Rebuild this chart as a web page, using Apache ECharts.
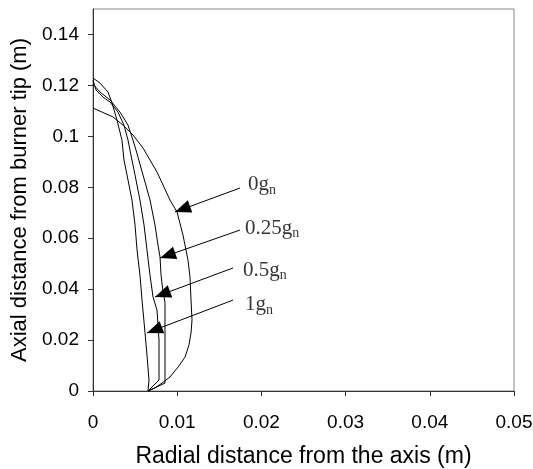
<!DOCTYPE html>
<html>
<head>
<meta charset="utf-8">
<script src="https://cdn.jsdelivr.net/npm/echarts@6/dist/echarts.min.js"></script>
<style>
html, body { margin: 0; padding: 0; background: #fff; }
#chart { width: 533px; height: 469px; }
</style>
</head>
<body>
<div id="chart"></div>
<script>
// flame contours [radial x, axial y] (m), top of flame to burner rim
var g0 = [[0, 0.1111], [0.00238, 0.1076], [0.00356, 0.1044], [0.00475, 0.1005], [0.00594, 0.0954],
    [0.0076, 0.086], [0.00914, 0.075], [0.00998, 0.0703], [0.01069, 0.0612], [0.01128, 0.0514],
    [0.01152, 0.0448], [0.01164, 0.0357], [0.01176, 0.0279], [0.01164, 0.0228], [0.0114, 0.0181],
    [0.01093, 0.0133], [0.0101, 0.0094], [0.00914, 0.0055], [0.0082, 0.0031], [0.00736, 0.0012], [0.00653, 0]];
var g025 = [[0, 0.1205], [0.00083, 0.1174], [0.00202, 0.1143], [0.00321, 0.1095], [0.00416, 0.1044],
    [0.00475, 0.0985], [0.00511, 0.0946], [0.00594, 0.0848], [0.00677, 0.075], [0.00736, 0.0652],
    [0.00772, 0.0573], [0.00796, 0.0526], [0.00808, 0.0455], [0.00831, 0.0389], [0.00855, 0.0349],
    [0.00855, 0.0031], [0.00653, 0]];
var g05 = [[0, 0.1221], [0.00036, 0.1182], [0.00119, 0.1154], [0.00202, 0.1135], [0.00297, 0.1095],
    [0.00368, 0.1044], [0.00416, 0.0985], [0.00439, 0.0946], [0.00499, 0.0848], [0.00558, 0.075],
    [0.00606, 0.0652], [0.00641, 0.0554], [0.00677, 0.0455], [0.00713, 0.0369], [0.0076, 0.0318],
    [0.00784, 0.02], [0.00784, 0.0043], [0.00653, 0]];
var g1 = [[0, 0.1229], [0.00083, 0.1209], [0.00178, 0.1174], [0.00226, 0.1131], [0.00285, 0.1064],
    [0.00344, 0.0985], [0.00368, 0.0907], [0.00416, 0.0828], [0.00463, 0.075], [0.00499, 0.0652],
    [0.00523, 0.0554], [0.00558, 0.0455], [0.00582, 0.0357], [0.00618, 0.0228], [0.00641, 0.0141],
    [0.00665, 0.0043], [0.00653, 0]];

var names = ['0', '0.25', '0.5', '1'];
// arrow start / tip and label anchor (data units)
var arrowFrom = [[0.01746, 0.0797], [0.01746, 0.0632], [0.01663, 0.0483], [0.01663, 0.0357]];
var arrowTo = [[0.00974, 0.0703], [0.00796, 0.0522], [0.00736, 0.0369], [0.00641, 0.0228]];
var labelAt = [[0.0184, 0.0809], [0.01805, 0.064], [0.01781, 0.0475], [0.01805, 0.0338]];

var xTicks = [0, 0.01, 0.02, 0.03, 0.04, 0.05];
var yTicks = [0, 0.02, 0.04, 0.06, 0.08, 0.1, 0.12, 0.14];

var curves = [g0, g025, g05, g1];
var series = [];
curves.forEach(function (d, i) {
    series.push({
        type: 'line',
        data: d,
        showSymbol: false,
        smooth: false,
        lineStyle: { color: '#000', width: 1 },
        itemStyle: { color: '#000' },
        markLine: {
            silent: true,
            symbol: ['none', 'triangle'],
            symbolSize: [13, 16],
            itemStyle: { color: '#000' },
            lineStyle: { color: '#000', width: 1, type: 'solid' },
            label: { show: false },
            data: [[{ coord: arrowFrom[i] }, { coord: arrowTo[i], symbolOffset: [0, 8] }]]
        }
    });
});
series.push({
    type: 'scatter',
    symbolSize: 0,
    silent: true,
    data: labelAt.map(function (p, i) { return [p[0], p[1], names[i]]; }),
    label: {
        show: true,
        position: 'right',
        distance: 0,
        formatter: function (p) { return p.value[2] + 'g{s|n}'; },
        fontFamily: 'Liberation Serif',
        fontSize: 21,
        color: '#000',
        rich: {
            s: { fontFamily: 'Liberation Serif', fontSize: 14, color: '#000', padding: [10, 0, 0, 0] }
        }
    }
});

var myChart = echarts.init(document.getElementById('chart'));
myChart.setOption({
    animation: false,
    grid: {
        left: 93, right: 19, top: 9, bottom: 78,
        outerBoundsMode: 'none',
        show: true, borderColor: '#888', borderWidth: 1
    },
    xAxis: {
        type: 'value',
        min: 0, max: 0.05, interval: 0.01,
        name: 'Radial distance from the axis (m)',
        nameLocation: 'middle',
        nameGap: 54,
        nameTextStyle: { fontFamily: 'Liberation Sans', fontSize: 23, color: '#000' },
        axisLine: { show: true, lineStyle: { color: '#333', width: 1 } },
        axisTick: { show: true, inside: false, length: 5, lineStyle: { color: '#333' }, customValues: xTicks },
        axisLabel: { fontFamily: 'Liberation Sans', fontSize: 19, color: '#000', margin: 22, customValues: xTicks },
        splitLine: { show: false }
    },
    yAxis: {
        type: 'value',
        min: 0, max: 0.15,
        name: 'Axial distance from burner tip (m)',
        nameLocation: 'middle',
        nameGap: 62,
        nameTextStyle: { fontFamily: 'Liberation Sans', fontSize: 22, color: '#000' },
        axisLine: { show: true, lineStyle: { color: '#333', width: 1 } },
        axisTick: { show: true, inside: false, length: 5, lineStyle: { color: '#333' }, customValues: yTicks },
        axisLabel: { fontFamily: 'Liberation Sans', fontSize: 19, color: '#000', margin: 14, customValues: yTicks },
        splitLine: { show: false }
    },
    series: series
});

window.onresize = function () {
    myChart.resize();
};
</script>
</body>
</html>
